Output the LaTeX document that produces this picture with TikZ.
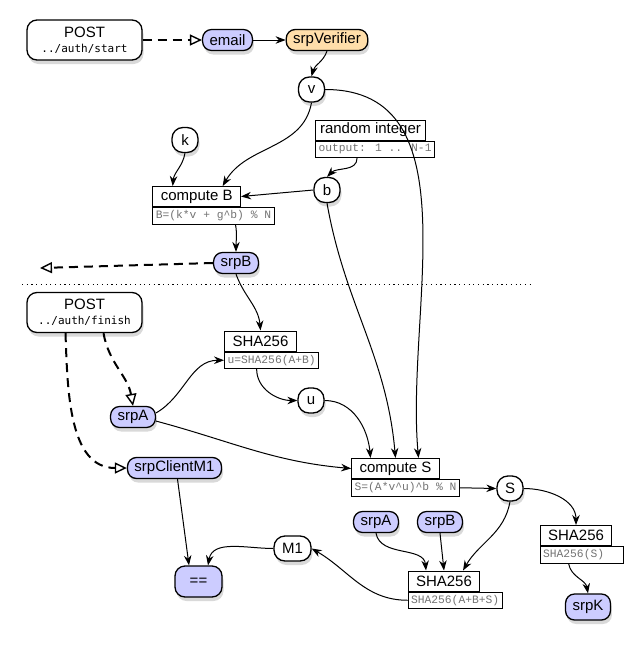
\documentclass[tikz,border=0pt]{standalone}
\usepackage{fontspec}
\setmainfont{Liberation Sans}
\newfontfamily\postmono{DejaVu Sans Mono}
\newfontfamily\codemono{Liberation Mono}
\usepackage{tikz}
\usetikzlibrary{arrows.meta,shadows}
\definecolor{lavender}{RGB}{204,204,255}
\definecolor{peach}{RGB}{255,222,170}

\begin{document}
\begin{tikzpicture}[x=1pt,y=-1pt,>={Stealth[length=10pt,width=7.5pt]},
    font=\fontsize{15}{17}\selectfont,
    pill/.style={draw,line width=1.3pt,rounded corners=9pt,fill=white,minimum height=21pt,inner xsep=7pt,inner ysep=0pt,
      drop shadow={opacity=0.3,shadow xshift=1.5pt,shadow yshift=-4pt}},
    var/.style={pill,minimum width=26pt,minimum height=25pt,inner xsep=2pt,rounded corners=11pt},
    msg/.style={pill,fill=lavender},
    req/.style={pill,rounded corners=10pt,minimum width=115pt,minimum height=40pt,align=center},
    title/.style={draw,line width=1pt,fill=white,minimum height=20pt,inner xsep=8pt,inner ysep=0pt},
    formula/.style={draw,line width=1pt,fill=white,anchor=north west,minimum height=16.5pt,inner xsep=3pt,inner ysep=0pt,
      text=black!55,font=\codemono\fontsize{11.3}{13}\selectfont},
    flow/.style={->,line width=1pt},
    post/.style={line width=2pt,dash pattern=on 9pt off 6pt,-{Triangle[open,length=12pt,width=11pt,line width=1.4pt]}}]

  \useasboundingbox (0,0) rectangle (638,651);

  \node[req] (ps) at (84.5,40) {POST\\[-2pt]{\postmono\fontsize{11}{13}\selectfont ../auth/start}};
  \node[msg] (email) at (227.5,40) {email};
  \node[pill,fill=peach] (sv) at (327,40) {srpVerifier};
  \node[var] (v) at (311.5,89.5) {v};
  \node[var] (k) at (185,140) {k};
  \node[title,inner xsep=4.5pt] (ri) at (370.5,130) {random integer};
  \node[formula] (rif) at (ri.south west) {output: 1 .. N-1};
  \node[var] (b) at (327,190) {b};
  \node[title] (cb) at (196.7,196.5) {compute B};
  \node[formula] (cbf) at (cb.south west) {B=(k*v + g\textasciicircum b) \% N};
  \node[msg] (srpB) at (236,263) {srpB};
  \coordinate (away) at (40,268);

  \node[req] (pf) at (84.5,312.5) {POST\\[-2pt]{\postmono\fontsize{11}{13}\selectfont ../auth/finish}};
  \node[title] (hu) at (260.5,341) {SHA256};
  \node[formula] (huf) at (hu.south west) {u=SHA256(A+B)};
  \node[var] (u) at (311,400.5) {u};
  \node[msg] (srpA) at (133,417) {srpA};
  \node[msg] (scm) at (174.5,468) {srpClientM1};
  \node[title] (cs) at (395.5,468.5) {compute S};
  \node[formula] (csf) at (cs.south west) {S=(A*v\textasciicircum u)\textasciicircum b \% N};
  \node[var] (S) at (510,488.5) {S};
  \node[msg] (srpA2) at (376,522) {srpA};
  \node[msg] (srpB2) at (440,522) {srpB};
  \node[title] (hm) at (444,581) {SHA256};
  \node[formula] (hmf) at (hm.south west) {SHA256(A+B+S)};
  \node[var,minimum width=37pt] (m1) at (292.5,548.5) {M1};
  \node[title] (hk) at (576,535.5) {SHA256};
  \node[formula,text width=77pt,align=left] (hkf) at (hk.south west) {SHA256(S)};
  \node[msg,minimum height=26pt] (srpK) at (588,607) {srpK};
  \node[msg,minimum width=47pt,minimum height=31pt,rounded corners=10pt] (eq) at (198.5,581.5) {==};

  \draw[post] (ps.east) -- (email.west);
  \draw[flow] (email.east) -- (sv.west);
  \draw[flow] (sv.south) to[out=-110,in=75] (v.north);
  \draw[flow] (v.south) to[out=-100,in=60] ([xshift=26pt]cb.north);
  \draw[flow] (v.east) to[out=0,in=95] ([xshift=23pt]cs.north);
  \draw[flow] (k.south) to[out=-100,in=85] ([xshift=-24pt]cb.north);
  \draw[flow] ([xshift=-18pt]rif.south) to[out=-90,in=45] (b.north);
  \draw[flow] (b.west) -- (cb.east);
  \draw[flow] (b.south) to[out=-80,in=95] (cs.north);
  \draw[flow] ([xshift=22pt]cbf.south) to[out=-80,in=90] (srpB.north);
  \draw[post] (srpB.west) -- (away);
  \draw[flow] (srpB.south) to[out=-70,in=95] (hu.north);

  \draw[dash pattern=on 1.2pt off 3.5pt,line width=1pt] (22,284) -- (530,284);

  \draw[post] ([xshift=19pt]pf.south) to[out=-80,in=100] (srpA.north);
  \draw[post] ([xshift=-19pt]pf.south) to[out=-88,in=180] (scm.west);
  \draw[flow] (srpA.10) to[out=30,in=180] (huf.west);
  \draw[flow] ([xshift=-15pt]huf.south) to[out=-90,in=180] (u.west);
  \draw[flow] (u.east) to[out=0,in=95] ([xshift=-25pt]cs.north);
  \draw[flow] (srpA.-10) to[out=-15,in=175] (cs.west);
  \draw[flow] (csf.east) -- (S.west);
  \draw[flow] (S.east) to[out=0,in=90] (hk.north);
  \draw[flow] (S.south) to[out=-100,in=60] ([xshift=19pt]hm.north);
  \draw[flow] (srpA2.south) to[out=-80,in=95] ([xshift=-18pt]hm.north);
  \draw[flow] (srpB2.south) -- (hm.north);
  \draw[flow] (hmf.west) to[out=180,in=-30] (m1.east);
  \draw[flow] (m1.west) to[out=180,in=80] ([xshift=9.5pt]eq.north);
  \draw[flow] ([xshift=3pt]scm.south) -- ([xshift=-9.5pt]eq.north);
  \draw[flow] ([xshift=-13pt]hkf.south) to[out=-80,in=100] (srpK.north);
\end{tikzpicture}
\end{document}
